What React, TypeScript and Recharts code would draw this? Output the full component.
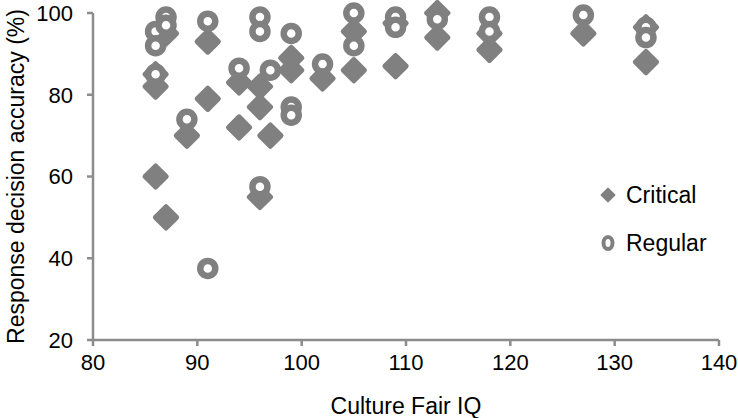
import { ScatterChart, Scatter, XAxis, YAxis, Legend } from 'recharts'

const criticalIQ = [86, 86, 86, 87, 87, 89, 91, 91, 94, 94, 96, 96, 96, 97, 99, 99, 102, 105, 105, 109, 109, 113, 113, 118, 118, 127, 133, 133]
const criticalAcc = [85, 82, 60, 95, 50, 70, 93, 79, 83, 72, 82, 77, 55, 70, 89, 86, 84, 95.5, 86, 97.5, 87, 100, 94, 95, 91, 95, 96.5, 88]

const regularIQ = [86, 86, 86, 87, 87, 89, 91, 91, 94, 96, 96, 96, 97, 99, 99, 99, 102, 105, 105, 109, 109, 113, 118, 118, 127, 133, 133]
const regularAcc = [95.5, 92, 85, 99, 97, 74, 98, 37.5, 86.5, 99, 95.5, 57.5, 86, 95, 77, 75, 87.5, 100, 92, 99, 96.5, 98.5, 99, 95.5, 99.5, 96.5, 94]

const xTicks = [80, 90, 100, 110, 120, 130, 140]
const yTicks = [20, 40, 60, 80, 100]

const critical = criticalIQ.map((x, i) => ({ x, y: criticalAcc[i] }))
const regular = regularIQ.map((x, i) => ({ x, y: regularAcc[i] }))

const GREY = '#808080'
const AXIS = '#8c8c8c'

const Diamond = (props: any) => {
  const { cx, cy } = props
  if (cx == null || cy == null) return null
  return (
    <rect
      x={cx - 10}
      y={cy - 10}
      width={20}
      height={20}
      rx={2.5}
      fill={GREY}
      transform={`rotate(45 ${cx} ${cy})`}
    />
  )
}

const Ring = (props: any) => {
  const { cx, cy } = props
  if (cx == null || cy == null) return null
  return <circle cx={cx} cy={cy} r={7.5} fill="#fff" stroke={GREY} strokeWidth={6.5} />
}

const LegendBox = () => (
  <div style={{ fontSize: 23, color: '#000' }}>
    <div style={{ display: 'flex', alignItems: 'center', height: 30 }}>
      <svg width={20} height={20} style={{ marginRight: 8 }}>
        <rect x={4.5} y={4.5} width={11} height={11} rx={1} fill={GREY} transform="rotate(45 10 10)" />
      </svg>
      Critical
    </div>
    <div style={{ display: 'flex', alignItems: 'center', height: 30, marginTop: 18 }}>
      <svg width={20} height={20} style={{ marginRight: 8 }}>
        <ellipse cx={10} cy={10} rx={4.5} ry={6} fill="#fff" stroke={GREY} strokeWidth={4} />
      </svg>
      Regular
    </div>
  </div>
)

const YTitle = (props: any) => {
  const { viewBox } = props
  const x = viewBox.x + 16
  const y = viewBox.y + viewBox.height / 2
  return (
    <text
      x={x}
      y={y}
      transform={`rotate(-90 ${x} ${y})`}
      textAnchor="middle"
      dominantBaseline="central"
      fontSize={23}
      fill="#000"
    >
      Response decision accuracy (%)
    </text>
  )
}

export default function App() {
  return (
    <div
      style={{
        position: 'absolute',
        left: 0,
        top: 0,
        width: 738,
        height: 418,
        background: '#fff',
        fontFamily: '"Liberation Sans", Arial, Helvetica, sans-serif',
      }}
    >
      <ScatterChart width={738} height={418} margin={{ top: 13, right: 19, left: 0, bottom: 0 }}>
        <XAxis
          type="number"
          dataKey="x"
          domain={[80, 140]}
          ticks={xTicks}
          height={78}
          tickSize={6}
          tickMargin={8}
          tick={{ fill: '#000', fontSize: 22 }}
          axisLine={{ stroke: AXIS, strokeWidth: 2.5 }}
          tickLine={{ stroke: AXIS, strokeWidth: 2.5 }}
          label={{ value: 'Culture Fair IQ', position: 'insideBottom', offset: 4, fill: '#000', fontSize: 23 }}
        />
        <YAxis
          type="number"
          dataKey="y"
          domain={[20, 100]}
          ticks={yTicks}
          width={93}
          tickSize={6}
          tickMargin={14}
          tick={{ fill: '#000', fontSize: 22 }}
          axisLine={{ stroke: AXIS, strokeWidth: 2.5 }}
          tickLine={{ stroke: AXIS, strokeWidth: 2.5 }}
          label={{ content: YTitle }}
        />
        <Legend
          layout="vertical"
          align="center"
          verticalAlign="middle"
          wrapperStyle={{ left: 598, top: 180, width: 140 }}
          content={LegendBox}
        />
        <Scatter name="Critical" data={critical} shape={Diamond} isAnimationActive={false} />
        <Scatter name="Regular" data={regular} shape={Ring} isAnimationActive={false} />
      </ScatterChart>
    </div>
  )
}
